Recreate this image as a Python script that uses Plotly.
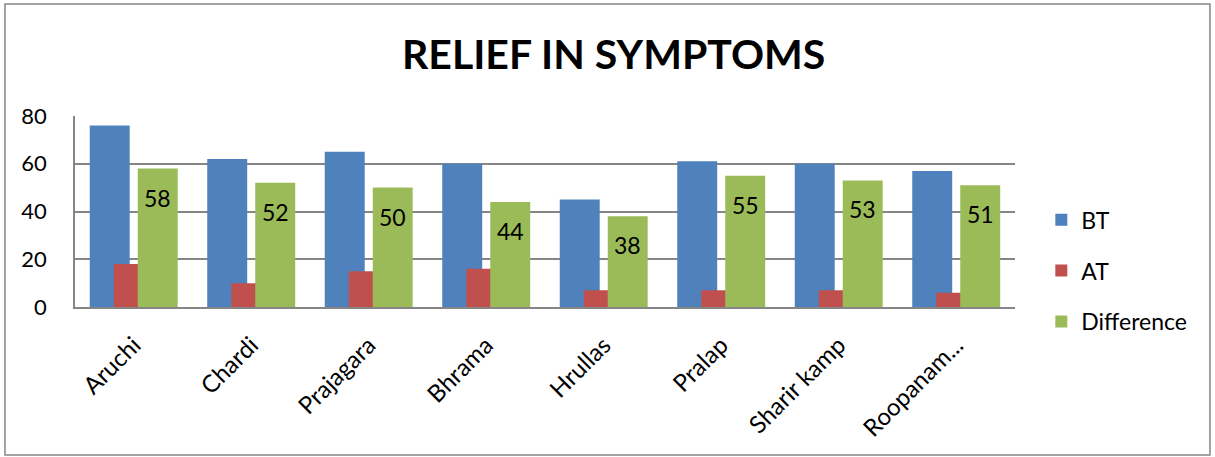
import plotly.graph_objects as go

categories = ["Aruchi", "Chardi", "Prajagara", "Bhrama", "Hrullas", "Pralap", "Sharir kamp", "Roopanam..."]
bt = [76, 62, 65, 60, 45, 61, 60, 57]
at = [18, 10, 15, 16, 7, 7, 7, 6]
diff = [58, 52, 50, 44, 38, 55, 53, 51]

FONT = "Lato"
W = 0.34
fig = go.Figure()
fig.add_trace(go.Bar(x=categories, y=bt, name="BT", marker=dict(color="#4F81BD", line=dict(width=0)),
                     width=W, offset=-0.3745, legendgroup="a"))
fig.add_trace(go.Bar(x=categories, y=at, name="AT", marker=dict(color="#C0504D", line=dict(width=0)),
                     width=W, offset=-0.17, legendgroup="b"))
fig.add_trace(go.Bar(x=categories, y=diff, name="Difference", marker=dict(color="#9BBB59", line=dict(width=0)),
                     width=W, offset=0.034, legendgroup="c"))

for c, v in zip(categories, diff):
    fig.add_annotation(x=c, y=v, xref="x", yref="y", text=str(v), showarrow=False,
                       xshift=24, yshift=-29, font=dict(family=FONT, size=23, color="black"))

fig.add_shape(type="rect", xref="paper", yref="paper", x0=-0.0745, x1=1.2074, y0=-0.775, y1=1.586,
              line=dict(color="#868686", width=1.5), fillcolor="rgba(0,0,0,0)", layer="below")

fig.update_layout(
    width=1215, height=457,
    margin=dict(l=75, r=200, t=116, b=150),
    paper_bgcolor="white", plot_bgcolor="white",
    barmode="overlay",
    title=dict(text="<b>RELIEF IN SYMPTOMS</b>", x=0.573, xref="paper", xanchor="center",
               y=(457 - 55) / 457, yanchor="middle", yref="container",
               font=dict(family=FONT, size=41, color="black")),
    font=dict(family=FONT, color="black"),
    showlegend=True,
    legend=dict(x=1.028, y=0.19, xanchor="left", yanchor="middle", traceorder="grouped",
                tracegroupgap=18, font=dict(family=FONT, size=23), itemwidth=30,
                bgcolor="rgba(0,0,0,0)"),
    xaxis=dict(type="category", tickangle=-45, tickfont=dict(family=FONT, size=24),
               showline=True, linecolor="#868686", linewidth=1.5, ticks="",
               showgrid=False, ticklabelstandoff=13),
    yaxis=dict(range=[0, 80], dtick=20, tickfont=dict(family=FONT, size=22),
               showline=True, linecolor="#868686", linewidth=1.5, ticks="",
               gridcolor="#868686", gridwidth=1.5, zeroline=False, ticklabelstandoff=22),
)

fig.write_html("out.html")
